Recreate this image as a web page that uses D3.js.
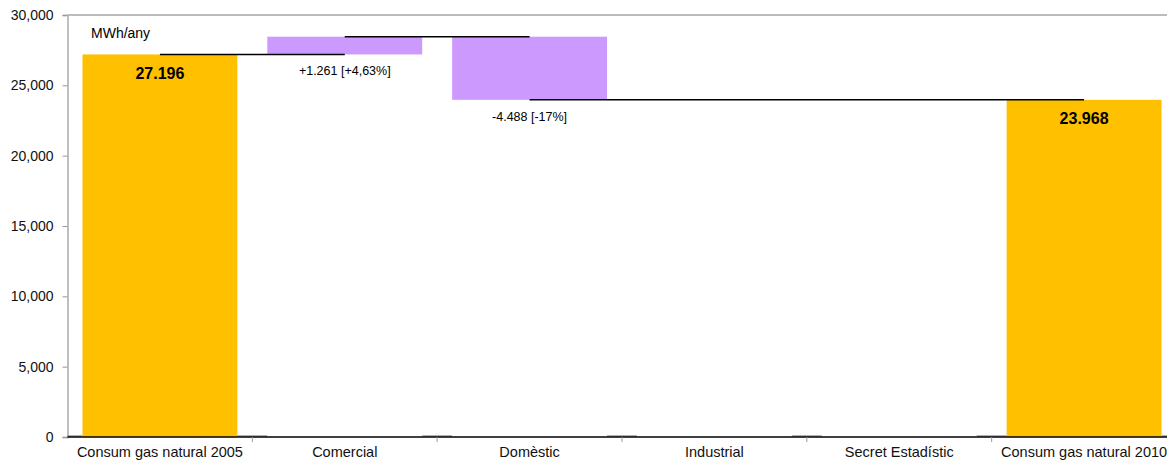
<!DOCTYPE html>
<html>
<head>
<meta charset="utf-8">
<script src="https://cdn.jsdelivr.net/npm/d3@7"></script>
<style>
  html, body { margin: 0; padding: 0; background: #fff; }
  svg { display: block; font-family: "Liberation Sans", Arial, sans-serif; }
</style>
</head>
<body>
<svg id="chart" width="1167" height="466"></svg>
<script>
const categories = ["Consum gas natural 2005", "Comercial", "Domèstic", "Industrial", "Secret Estadístic", "Consum gas natural 2010"];
const changes = [27196, 1261, -4488, 0, 0, 23968];
const isTotal = [true, false, false, false, false, true];
const changeLabels = ["27.196", "+1.261 [+4,63%]", "-4.488 [-17%]", "", "", "23.968"];
const yTicks = [0, 5000, 10000, 15000, 20000, 25000, 30000];
const unitLabel = "MWh/any";

(function () {
const svg = d3.select("#chart");
const pLeft = 67.5, pRight = 1176.5, pTop = 15, pBottom = 437;

const x = d3.scaleBand().domain(categories).range([pLeft, pRight]).paddingInner(0.162).paddingOuter(0.081);
const y = d3.scaleLinear().domain([0, 30000]).range([pBottom, pTop]);

let running = 0;
const segs = categories.map((c, i) => {
  let y0, y1;
  if (isTotal[i]) { y0 = 0; y1 = changes[i]; running = changes[i]; }
  else { y0 = running; y1 = running + changes[i]; running = y1; }
  return { cat: c, y0, y1, end: running, total: isTotal[i], label: changeLabels[i] };
});

svg.append("line").attr("x1", pLeft).attr("x2", 1167).attr("y1", pTop).attr("y2", pTop)
  .attr("stroke", "#a6a6a6").attr("stroke-width", 1.5);

const yAxis = d3.axisLeft(y).tickValues(yTicks).tickSize(5).tickPadding(9)
  .tickFormat(d3.format(","));
const gy = svg.append("g").attr("transform", `translate(${pLeft},0)`).call(yAxis);
gy.select(".domain").attr("stroke", "#bfbfbf").attr("stroke-width", 2);
gy.selectAll(".tick line").attr("stroke", "#999");
gy.selectAll(".tick text").attr("fill", "#111").style("font-size", "14px")
  .style("font-family", "Liberation Sans, Arial, sans-serif");

svg.append("g").selectAll("rect").data(segs.filter(s => s.y0 !== s.y1)).join("rect")
  .attr("x", s => x(s.cat))
  .attr("width", x.bandwidth())
  .attr("y", s => y(Math.max(s.y0, s.y1)))
  .attr("height", s => Math.abs(y(s.y0) - y(s.y1)))
  .attr("fill", s => s.total ? "#FFC000" : "#CC99FF");

const step = x.step();
const gapW = step - x.bandwidth();
const gaps = [[pLeft, x(categories[0])]].concat(
  categories.map(c => [x(c) + x.bandwidth(), Math.min(x(c) + x.bandwidth() + gapW, 1167)]));
svg.append("g").selectAll("line").data(gaps).join("line")
  .attr("x1", d => d[0]).attr("x2", d => d[1])
  .attr("y1", pBottom - 1).attr("y2", pBottom - 1)
  .attr("stroke", "#999").attr("stroke-width", 1.5);

const conns = [];
for (let i = 0; i < segs.length - 1; i++) {
  conns.push({ from: segs[i].cat, to: segs[i + 1].cat, v: segs[i].end });
}
const merged = [];
conns.forEach(c => {
  const last = merged[merged.length - 1];
  if (last && last.v === c.v) last.to = c.to; else merged.push(Object.assign({}, c));
});
svg.append("g").selectAll("line").data(merged).join("line")
  .attr("x1", c => x(c.from) + x.bandwidth() / 2)
  .attr("x2", c => x(c.to) + x.bandwidth() / 2)
  .attr("y1", c => y(c.v)).attr("y2", c => y(c.v))
  .attr("stroke", "#000").attr("stroke-width", 1.5);

const xAxis = d3.axisBottom(x).tickSize(0).tickPadding(10);
const gx = svg.append("g").attr("transform", `translate(0,${pBottom})`).call(xAxis);
gx.select(".domain").remove();
gx.selectAll(".tick text").attr("fill", "#111").style("font-size", "14.5px")
  .style("font-family", "Liberation Sans, Arial, sans-serif");
svg.append("line").attr("x1", pLeft).attr("x2", 1167).attr("y1", pBottom).attr("y2", pBottom)
  .attr("stroke", "#000").attr("stroke-width", 1.5);
const bounds = d3.range(1, categories.length).map(i => pLeft + i * step);
svg.append("g").selectAll("line").data(bounds).join("line")
  .attr("x1", d => d).attr("x2", d => d).attr("y1", pBottom).attr("y2", pBottom + 5)
  .attr("stroke", "#999");

svg.append("g").selectAll("text").data(segs.filter(s => s.label)).join("text")
  .attr("x", s => x(s.cat) + x.bandwidth() / 2)
  .attr("y", s => s.total ? y(s.y1) + 24.5 : y(Math.min(s.y0, s.y1)) + 21)
  .attr("text-anchor", "middle")
  .style("font-size", s => s.total ? "16px" : "12.5px")
  .style("font-weight", s => s.total ? "bold" : "normal")
  .attr("fill", "#000")
  .text(s => s.label);

svg.append("text").attr("x", 91).attr("y", 38).style("font-size", "14px").attr("fill", "#000").text(unitLabel);
})();
</script>
</body>
</html>
